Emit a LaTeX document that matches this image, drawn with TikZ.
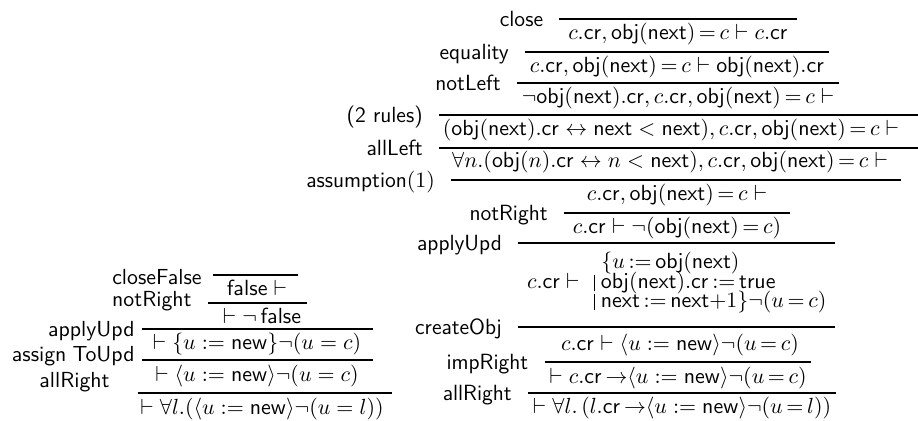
\documentclass[tikz,border=0pt]{standalone}
\usepackage{amsmath}
\usetikzlibrary{fit,calc}
\newcommand\sv[1]{\mathsf{#1}}
\newcommand\eqq{\,{=}\,}
\newcommand\ubar{\rule[-1.2pt]{0.45pt}{8pt}\hspace{2.8pt}}
% name, fit list, rule y (px), extra left, extra right, label
\newcommand\prule[6]{%
  \node[fit=#2,inner sep=0pt] (b#1) {};
  \coordinate (y#1) at (0,#3);
  \coordinate (L#1) at ($(b#1.west |- y#1)+(-#4,0)$);
  \coordinate (R#1) at ($(b#1.east |- y#1)+(#5,0)$);
  \draw[rl] (L#1) -- (R#1);
  \node[lb] (lab#1) at ($(L#1)+(-8pt,-4pt)$) {#6};
}
\begin{document}
\begin{tikzpicture}[x=0.5pt,y=-0.5pt,
  fm/.style={anchor=base,inner sep=0pt,font=\sffamily\fontsize{10.6}{12}\selectfont},
  fmL/.style={anchor=base,inner sep=0pt,font=\sffamily\fontsize{11.1}{12}\selectfont},
  fl/.style={anchor=base west,inner sep=0pt,font=\sffamily\fontsize{10.6}{12}\selectfont},
  fr/.style={anchor=base east,inner sep=0pt,font=\sffamily\fontsize{10.6}{12}\selectfont},
  lb/.style={anchor=base east,inner sep=0pt,font=\sffamily\fontsize{11}{12}\selectfont},
  lbL/.style={anchor=base east,inner sep=0pt,font=\sffamily\fontsize{10.9}{12}\selectfont},
  rl/.style={line width=0.75pt}]
\useasboundingbox (0,0) rectangle (918,421);
% ---------- right tree : formulas ----------
\node[fm] (f1) at (678,40) {$c.\sv{cr}, \sv{obj}(\sv{next})\eqq c \vdash c.\sv{cr}$};
\node[fm] (f2) at (677,73) {$c.\sv{cr}, \sv{obj}(\sv{next})\eqq c \vdash \sv{obj}(\sv{next}).\sv{cr}$};
\node[fm] (f3) at (678,104) {$\neg\sv{obj}(\sv{next}).\sv{cr}, c.\sv{cr}, \sv{obj}(\sv{next})\eqq c \vdash$};
\node[fm] (f4) at (671,136) {$(\sv{obj}(\sv{next}).\sv{cr} \leftrightarrow \sv{next} < \sv{next}), c.\sv{cr}, \sv{obj}(\sv{next})\eqq c \vdash$};
\node[fm] (f5) at (670,168) {$\forall n.(\sv{obj}(n).\sv{cr} \leftrightarrow n < \sv{next}), c.\sv{cr}, \sv{obj}(\sv{next})\eqq c \vdash$};
\node[fm] (f6) at (677,201) {$c.\sv{cr}, \sv{obj}(\sv{next})\eqq c \vdash$};
\node[fm] (f7) at (677,234) {$c.\sv{cr} \vdash \neg(\sv{obj}(\sv{next})\eqq c)$};
\node[fr] (f8a) at (580,289) {$c.\sv{cr} \vdash$};
\node[fl] (f8b) at (601,269) {$\{u\,{:=}\,\sv{obj}(\sv{next})$};
\node[fl] (f8c) at (594,289) {\ubar$\sv{obj}(\sv{next}).\sv{cr}\,{:=}\,\sv{true}$};
\node[fl] (f8d) at (594,308) {\ubar$\sv{next}\,{:=}\,\sv{next}{+}1\}\neg(u\eqq c)$};
\node[fm] (f9) at (680,351) {$c.\sv{cr} \vdash \langle u := \sv{new}\rangle\neg(u\eqq c)$};
\node[fm] (f10) at (678,384) {$\vdash c.\sv{cr}\,{\rightarrow}\langle u := \sv{new}\rangle\neg(u\eqq c)$};
\node[fm] (f11) at (682,414) {$\vdash \forall l.\,(l.\sv{cr}\,{\rightarrow}\langle u := \sv{new}\rangle\neg(u\eqq l))$};
% ---------- right tree : rules ----------
\prule{1}{(f1)}{19}{4pt}{4pt}{close}
\prule{2}{(f1)(f2)}{52}{2pt}{2pt}{equality}
\prule{3}{(f2)(f3)}{83}{2pt}{2pt}{notLeft}
\node[fit=(f3)(f4),inner sep=0pt] (b4) {};
\coordinate (y4) at (918,115);
\coordinate (L4) at ($(b4.west |- y4)+(-1.5pt,0)$);
\draw[rl] (L4) -- (y4);
\node[lb] (lab4) at ($(L4)+(-8pt,-4pt)$) {(2 rules)};
\node[fit=(f4)(f5),inner sep=0pt] (b5) {};
\coordinate (y5) at (918,148);
\coordinate (L5) at ($(b5.west |- y5)+(-1.5pt,0)$);
\draw[rl] (L5) -- (y5);
\node[lb] (lab5) at ($(L5)+(-8pt,-4pt)$) {allLeft};
\prule{6}{(f5)(f6)}{180}{0pt}{6pt}{assumption$(1)$}
\prule{7}{(f6)(f7)}{213}{4pt}{4pt}{notRight}
\prule{8}{(f7)(f8a)(f8b)(f8c)(f8d)}{243}{4pt}{4pt}{applyUpd}
\prule{9}{(f8a)(f8b)(f8c)(f8d)(f9)}{327}{4pt}{4pt}{createObj}
\prule{10}{(f9)(f10)}{362}{2pt}{2pt}{impRight}
\prule{11}{(f10)(f11)}{393}{2pt}{2pt}{allRight}

% ---------- left tree : formulas ----------
\node[fmL] (g1) at (257,296) {$\sv{false} \vdash$};
\node[fmL] (g2) at (262,324) {$\vdash \neg\,\sv{false}$};
\node[fmL] (g3) at (257,350) {$\vdash \{u := \sv{new}\}\neg(u = c)$};
\node[fmL] (g4) at (257,382) {$\vdash \langle u := \sv{new}\rangle\neg(u = c)$};
\node[fmL] (g5) at (262,415) {$\vdash \forall l.(\langle u := \sv{new}\rangle\neg(u = l))$};
% ---------- left tree : rules ----------
\coordinate (s1a) at (213,275); \coordinate (s1b) at (298,275);
\coordinate (s2a) at (208,303); \coordinate (s2b) at (307,303);
\coordinate (s3a) at (142,329); \coordinate (s3b) at (373,329);
\coordinate (s4a) at (142,360); \coordinate (s4b) at (373,360);
\coordinate (s5a) at (138,393); \coordinate (s5b) at (392,393);
\foreach \i in {1,...,5} {\draw[rl] (s\i a) -- (s\i b);}
\node[lbL] (lclosefalse) at (202,285) {closeFalse};
\node[lbL] (lnotrightL) at (192,307) {notRight};
\node[lbL] (lapplyL) at (135,337) {applyUpd};
\node[lbL] (lassign) at (135,362) {assign\hspace{3pt}ToUpd};
\node[lbL] (lallrightL) at (110,388) {allRight};
\end{tikzpicture}
\end{document}
